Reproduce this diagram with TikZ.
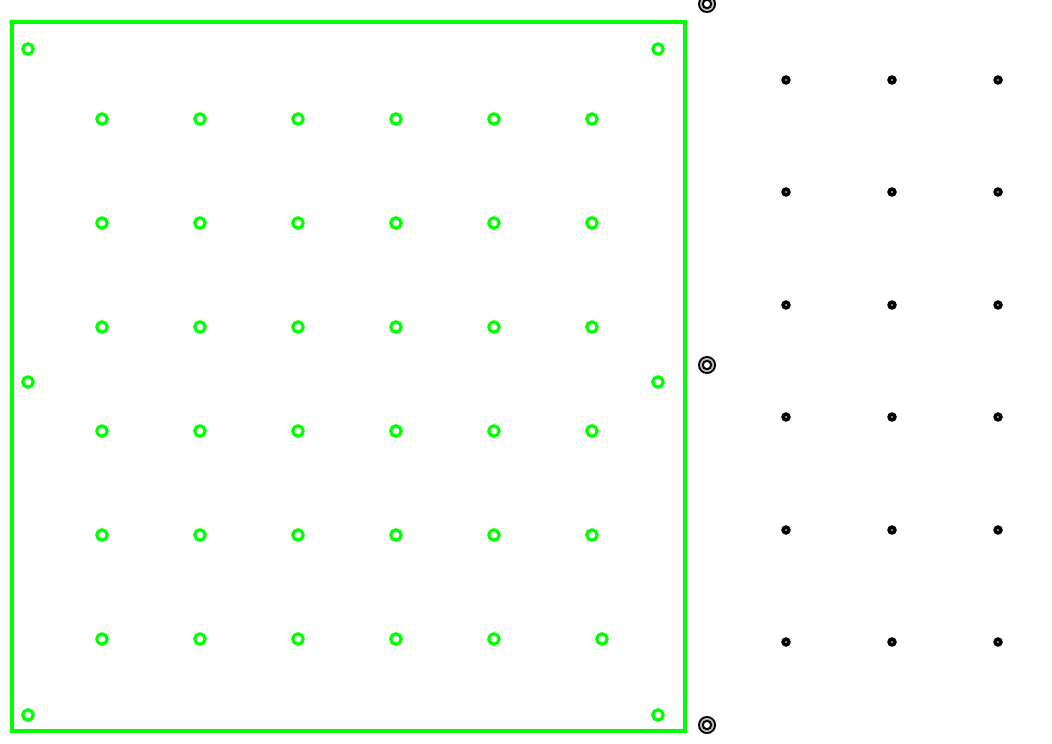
\documentclass[tikz,border=0pt]{standalone}
\begin{document}
\begin{tikzpicture}[x=1pt,y=-1pt,
  gring/.style={draw=green, line width=3.2pt},
  ]
\useasboundingbox (0,0) rectangle (1052,744);
\fill[white] (0,0) rectangle (1052,744);
% frame
\draw[green, line width=3.5pt] (12,22) rectangle (685,731);
% corner/side circles
\foreach \x/\y in {28/49, 658/49, 28/382, 658/382, 28/715, 658/715}
  \draw[gring] (\x,\y) circle[radius=5.2];
% grid circles
\foreach \y in {119,223,327,431,535}
  \foreach \x in {102,200,298,396,494,592}
    \draw[gring] (\x,\y) circle[radius=5.2];
\foreach \x in {102,200,298,396,494,602}
  \draw[gring] (\x,639) circle[radius=5.2];
% double circles
\foreach \y in {4,365,725}{
  \fill[black] (707,\y) circle[radius=9];
  \fill[black!25] (707,\y) circle[radius=7];
  \fill[black] (707,\y) circle[radius=5.3];
  \fill[white] (707,\y) circle[radius=3];
}
% black dots
\foreach \y in {80,192,305,417,530,642}
  \foreach \x in {786,892,998}{
    \fill[black] (\x,\y) circle[radius=4.8];
    \fill[white] (\x,\y) circle[radius=0.9];
  }
\end{tikzpicture}
\end{document}
